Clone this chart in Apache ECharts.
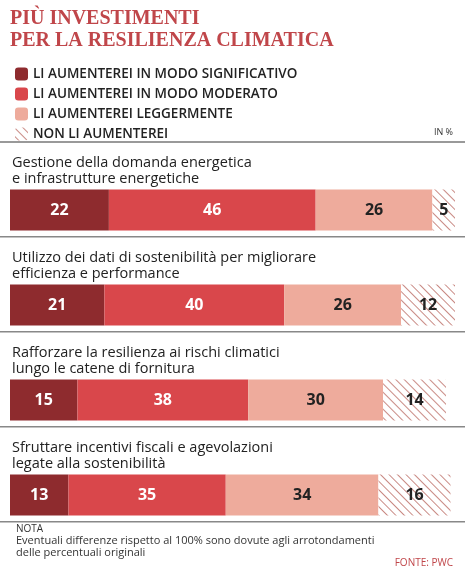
<!DOCTYPE html><html><head><meta charset="utf-8">
<script src="https://cdn.jsdelivr.net/npm/echarts@6/dist/echarts.min.js"></script>
<style>html,body{margin:0;background:#fff}#c{width:465px;height:572px}</style></head><body><div id="c"></div>
<script>
const categories=["Gestione della domanda energetica\ne infrastrutture energetiche","Utilizzo dei dati di sostenibilità per migliorare\nefficienza e performance","Rafforzare la resilienza ai rischi climatici\nlungo le catene di fornitura","Sfruttare incentivi fiscali e agevolazioni\nlegate alla sostenibilità"];
const seriesNames=["LI AUMENTEREI IN MODO SIGNIFICATIVO","LI AUMENTEREI IN MODO MODERATO","LI AUMENTEREI LEGGERMENTE","NON LI AUMENTEREI"];
const significativo=[22,21,15,13];
const moderato=[46,40,38,35];
const leggermente=[26,26,30,34];
const non=[5,12,14,16];
const colors=['#8e2b2e','#d9474b','#eeab9c','#ffffff'];
const labelColors=['#fff','#fff','#222','#222'];
const vals=[significativo,moderato,leggermente,non];
const chart=echarts.init(document.getElementById('c'));
const graphics=[
 {type:'text',left:10,top:8,style:{text:'PIÙ INVESTIMENTI\nPER LA RESILIENZA CLIMATICA',font:'bold 20px "Liberation Serif"',fill:'#c0464a',lineHeight:22}},
 {type:'text',right:12,top:128,style:{text:'IN %',font:'9px "Open Sans"',fill:'#333'}},
 {type:'rect',shape:{x:0,y:141,width:465,height:2},style:{fill:'#999'}}
];
const centers=[210,305,400,495];
centers.forEach((c,i)=>{
 graphics.push({type:'text',left:12,top:c-55,style:{text:categories[i],font:'14.5px "Open Sans"',fill:'#222',lineHeight:16}});
 graphics.push({type:'rect',shape:{x:0,y:c+26,width:465,height:1.5},style:{fill:'#888'}});
});
graphics.push({type:'text',left:16,top:524,style:{text:'NOTA',font:'10px "Open Sans"',fill:'#333'}});
graphics.push({type:'text',left:16,top:535,style:{text:'Eventuali differenze rispetto al 100% sono dovute agli arrotondamenti\ndelle percentuali originali',font:'11px "Open Sans"',fill:'#333',lineHeight:12}});
graphics.push({type:'text',right:12,top:558,style:{text:'FONTE: PWC',font:'10px "Open Sans"',fill:'#c0464a'}});
chart.setOption({
 animation:false,
 legend:{orient:'vertical',left:10,top:62,itemWidth:13,itemHeight:13,itemGap:6,data:seriesNames,
  textStyle:{fontFamily:'Open Sans',fontSize:13.5,fontWeight:600,color:'#222'},selectedMode:false},
 grid:{left:10,right:10,top:162.5,bottom:29.5},
 xAxis:{type:'value',min:0,max:'dataMax',show:false},
 yAxis:{type:'category',inverse:true,data:categories,show:false},
 graphic:graphics,
 series:vals.map((v,i)=>({name:seriesNames[i],type:'bar',stack:'a',data:v,barWidth:41,
  itemStyle:Object.assign({color:colors[i]},i===3?{decal:{symbol:'rect',color:'#c98a84',backgroundColor:'#fff',dashArrayX:[1,0],dashArrayY:[1,5],rotation:Math.PI/4,symbolSize:1}}:{}),
  label:{show:true,position:'inside',color:labelColors[i],fontFamily:'Open Sans',fontSize:16,fontWeight:'bold'}}))
});
</script></body></html>
